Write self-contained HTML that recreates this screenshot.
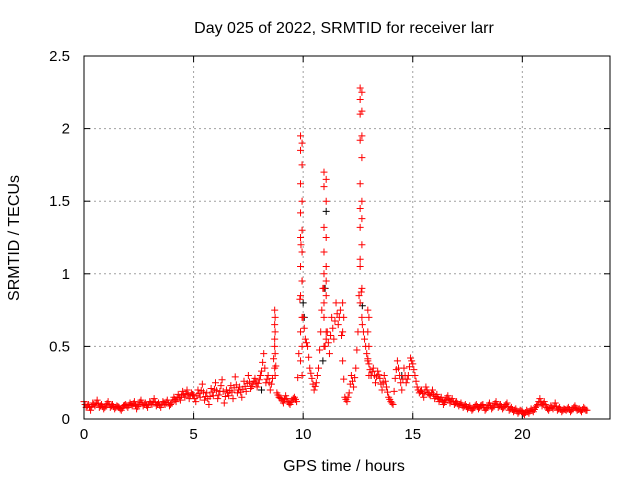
<!DOCTYPE html>
<html><head><meta charset="utf-8"><style>
body{margin:0;background:#fff}
svg{display:block;font-family:"Liberation Sans",sans-serif}
</style></head><body>
<svg id="chart" width="640" height="480" viewBox="0 0 640 480">
<rect width="640" height="480" fill="#fff"/>
<text x="344" y="33" text-anchor="middle" font-size="16">Day 025 of 2022, SRMTID for receiver larr</text>
<text x="344" y="471" text-anchor="middle" font-size="16">GPS time / hours</text>
<text transform="translate(19,238) rotate(-90)" text-anchor="middle" font-size="16">SRMTID / TECUs</text>
<g id="grid"></g>
<g id="ticks"></g>
<g id="black"></g>
<g id="red"></g>
<rect x="84" y="56" width="526" height="363" fill="none" stroke="#000" stroke-width="1"/>
</svg>
<script>
const xTicks=[0,5,10,15,20];
const yTicks=[0,0.5,1,1.5,2,2.5];
const yTickLabels=["0","0.5","1","1.5","2","2.5"];
const redVals=[0.12,0.08,0.1,0.06,0.11,0.09,0.13,0.08,0.1,0.07,
0.09,0.12,0.08,0.1,0.07,0.09,0.08,0.06,0.09,0.1,
0.08,0.11,0.09,0.12,0.07,0.1,0.13,0.09,0.11,0.08,
0.12,0.1,0.14,0.09,0.11,0.08,0.12,0.1,0.13,0.09,
0.11,0.15,0.12,0.17,0.13,0.19,0.15,0.2,0.14,0.18,
0.16,0.12,0.2,0.15,0.24,0.13,0.18,0.1,0.21,0.16,
0.25,0.14,0.19,0.27,0.11,0.2,0.16,0.23,0.14,0.29,
0.18,0.22,0.15,0.26,0.19,0.3,0.21,0.24,0.28,0.22,
0.27,0.33,0.45,0.25,0.3,0.2,0.28,0.55,0.18,0.15,
0.14,0.11,0.16,0.12,0.1,0.13,0.15,0.12,0.45,1.2,
0.7,0.55,0.5,0.35,0.28,0.2,0.25,0.35,0.6,0.9,
0.5,0.6,0.45,0.7,0.55,0.8,0.65,0.75,0.4,0.15,
0.12,0.18,0.3,0.22,0.35,0.6,1.1,0.65,0.55,0.45,
0.38,0.3,0.35,0.25,0.33,0.28,0.2,0.3,0.22,0.15,
0.12,0.1,0.28,0.4,0.3,0.2,0.35,0.25,0.3,0.42,
0.38,0.3,0.22,0.18,0.2,0.15,0.22,0.18,0.16,0.2,
0.14,0.17,0.12,0.15,0.1,0.13,0.16,0.11,0.14,0.1,
0.12,0.09,0.11,0.08,0.1,0.07,0.09,0.06,0.08,0.1,
0.07,0.09,0.1,0.06,0.08,0.11,0.07,0.09,0.12,0.08,
0.1,0.07,0.09,0.11,0.06,0.08,0.05,0.07,0.04,0.06,
0.05,0.03,0.06,0.04,0.07,0.05,0.08,0.1,0.14,0.09,
0.12,0.08,0.06,0.09,0.07,0.11,0.06,0.08,0.05,0.07,
0.06,0.08,0.05,0.07,0.09,0.06,0.07,0.05,0.08,0.06];
const redStep=0.1;
const extraT=[8.7,8.72,8.7,8.72,8.7,8.72,8.7,8.72,
9.88,9.95,9.88,9.95,9.88,9.95,9.88,9.95,9.88,9.95,9.88,9.95,9.88,9.95,9.88,9.95,9.88,9.95,
10.95,11.05,10.95,11.05,10.95,11.05,10.95,11.05,10.95,11.05,10.95,11.05,10.95,11.05,10.95,
12.6,12.68,12.6,12.68,12.6,12.68,12.6,12.68,12.6,12.68,12.6,12.68,12.6,12.68,12.6,12.68,12.6,12.68,
12.95,13.0,12.95,13.0,12.95,13.0,11.8,11.85,11.8];
const extraV=[0.75,0.7,0.65,0.6,0.5,0.45,0.35,0.3,
1.95,1.9,1.85,1.75,1.62,1.5,1.42,1.3,1.25,1.15,1.05,0.95,0.85,0.7,0.6,0.5,0.4,0.3,
1.7,1.65,1.6,1.5,1.32,1.25,1.15,1.05,1.0,0.95,0.9,0.85,0.8,0.6,0.5,
2.28,2.25,2.2,2.12,2.1,1.95,1.92,1.8,1.62,1.5,1.45,1.38,1.32,1.2,1.05,0.9,0.8,0.7,
0.75,0.7,0.6,0.5,0.4,0.3,0.8,0.7,0.6];
const blackT=[10.0,10.05,11.05,11.0,12.7,13.1,10.9,8.1,14.5];
const blackV=[0.8,0.7,1.43,0.9,0.78,0.3,0.4,0.2,0.3];

const L=84,R=610,T=56,B=419,XMAX=24,YMAX=2.5;
const X=t=>L+t*(R-L)/XMAX, Y=v=>B-v*(B-T)/YMAX;
const NS="http://www.w3.org/2000/svg";
function mk(tag,attrs,parent){const e=document.createElementNS(NS,tag);for(const k in attrs)e.setAttribute(k,attrs[k]);parent.appendChild(e);return e;}
const grid=document.getElementById('grid'),ticks=document.getElementById('ticks');
xTicks.forEach(t=>{const x=X(t);
 if(t>0){const g=mk('line',{x1:x,x2:x,y1:T,y2:B,stroke:'#a0a0a0','stroke-dasharray':'2,3'},grid);
 
 }
 mk('line',{x1:x,x2:x,y1:B,y2:B-6,stroke:'#000'},ticks);
 mk('line',{x1:x,x2:x,y1:T,y2:T+6,stroke:'#000'},ticks);
 const lb=mk('text',{x:x,y:B+20,'text-anchor':'middle','font-size':'15'},ticks);lb.textContent=String(t);
 
 
});
yTicks.forEach((v,i)=>{const y=Y(v);
 if(v>0&&v<YMAX){const g=mk('line',{x1:L,x2:R,y1:y,y2:y,stroke:'#a0a0a0','stroke-dasharray':'2,3'},grid);
 
 }
 mk('line',{x1:L,x2:L+6,y1:y,y2:y,stroke:'#000'},ticks);
 mk('line',{x1:R,x2:R-6,y1:y,y2:y,stroke:'#000'},ticks);
 const lb=mk('text',{x:70,y:y+5,'text-anchor':'end','font-size':'15'},ticks);lb.textContent=yTickLabels[i];
 
 
});
function plus(t,v,col,g){const x=X(t),y=Y(v);
 const p=mk('path',{d:`M${x-3.5},${y}h7M${x},${y-3.5}v7`,stroke:col,'stroke-width':'1',fill:'none'},g);
 
 
}
const bg=document.getElementById('black'),rg=document.getElementById('red');
blackT.forEach((t,i)=>plus(t,blackV[i],'#000',bg));
redVals.forEach((v,i)=>{plus(i*redStep,v,'#ff0000',rg);plus(i*redStep+0.05,(v+(redVals[i+1]!==undefined?redVals[i+1]:v))/2,'#ff0000',rg);});
extraT.forEach((t,i)=>plus(t,extraV[i],'#ff0000',rg));
</script>
</body></html>
